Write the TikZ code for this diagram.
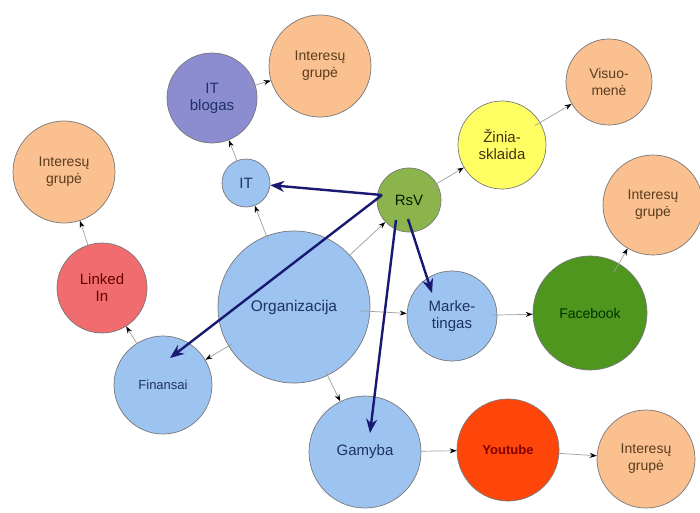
\documentclass[tikz,border=0pt]{standalone}
\usepackage{fontspec}
\setmainfont{Liberation Sans}
\usetikzlibrary{arrows.meta}
\definecolor{lblue}{RGB}{157,195,240}
\definecolor{peach}{RGB}{250,192,144}
\definecolor{lpurple}{RGB}{140,140,208}
\definecolor{lyellow}{RGB}{255,255,100}
\definecolor{rsvgreen}{RGB}{140,180,76}
\definecolor{fbgreen}{RGB}{78,150,30}
\definecolor{ytred}{RGB}{255,70,10}
\definecolor{lired}{RGB}{240,108,110}
\definecolor{navytext}{RGB}{30,50,100}
\definecolor{browntext}{RGB}{90,60,30}
\definecolor{thicknavy}{RGB}{25,25,115}
\definecolor{rim}{RGB}{120,120,120}
\tikzset{
  bub/.style={circle, draw=rim, line width=0.7pt, align=center, inner sep=0pt,
    font=\fontsize{15}{17}\selectfont},
  bluebub/.style={bub, fill=lblue, text=navytext},
  peachbub/.style={bub, fill=peach, text=browntext, font=\fontsize{14}{17}\selectfont},
  thinarr/.style={draw=gray!75, line width=0.7pt, -{Stealth[length=7pt,width=5pt,color=black]}},
  thickarr/.style={draw=thicknavy, line width=2.4pt, -{Stealth[length=14pt,width=11pt]}}
}
\begin{document}
\begin{tikzpicture}[x=1pt,y=-1pt]
\useasboundingbox[fill=white] (0,0) rectangle (700,512);
% nodes
\node[bub, fill=lpurple, text=navytext, minimum size=90pt] (itb) at (212,98) {IT\\blogas};
\node[peachbub, minimum size=102pt] (ig1) at (320,66) {Interesų\\grupė};
\node[bluebub, minimum size=48pt] (it) at (246,183) {IT};
\node[peachbub, minimum size=86pt] (vis) at (609,82) {Visuo-\\menė};
\node[bub, fill=lyellow, text=browntext!80!black, minimum size=88pt] (zin) at (502,145) {Žinia-\\sklaida};
\node[bub, fill=rsvgreen, text=black!70!green!40!black, minimum size=64pt] (rsv) at (409,200) {RsV};
\node[peachbub, minimum size=100pt] (ig2) at (653,205) {Interesų\\grupė};
\node[peachbub, minimum size=102pt] (ig3) at (64,172) {Interesų\\grupė};
\node[bub, fill=lired, text=red!40!black, minimum size=90pt] (lin) at (102,288) {Linked\\In};
\node[bluebub, minimum size=98pt, font=\fontsize{13}{15}\selectfont] (fin) at (163,385) {Finansai};
\node[bluebub, minimum size=152pt, font=\fontsize{15.5}{18}\selectfont] (org) at (294,307) {Organizacija};
\node[bluebub, minimum size=90pt] (mkt) at (452,316) {Marke-\\tingas};
\node[bub, fill=fbgreen, text=green!20!black, minimum size=114pt, font=\fontsize{14}{16}\selectfont] (fb) at (590,313) {Facebook};
\node[bluebub, minimum size=112pt] (gam) at (365,452) {Gamyba};
\node[bub, fill=ytred, text=red!50!black, minimum size=102pt, font=\bfseries\fontsize{13}{15}\selectfont] (yt) at (508,450) {Youtube};
\node[peachbub, minimum size=98pt] (ig4) at (646,459) {Interesų\\grupė};
% thin arrows
\draw[thinarr, shorten <=-8pt] (itb) -- (ig1);
\draw[thinarr] (it) -- (itb);
\draw[thinarr, shorten <=-4pt] (org) -- (it);
\draw[thinarr] (org) -- (rsv);
\draw[thinarr, shorten <=-10pt] (org) -- (mkt);
\draw[thinarr, shorten <=-4pt] (org) -- (fin);
\draw[thinarr, shorten <=-4pt] (org) -- (gam);
\draw[thinarr, shorten <=-6pt] (rsv) -- (zin);
\draw[thinarr, shorten <=-6pt] (zin) -- (vis);
\draw[thinarr] (fin) -- (lin);
\draw[thinarr] (lin) -- (ig3);
\draw[thinarr, shorten <=-6pt] (mkt) -- (fb);
\draw[thinarr, shorten <=-10pt] (fb) -- (ig2);
\draw[thinarr] (gam) -- (yt);
\draw[thinarr] (yt) -- (ig4);
% thick arrows from RsV
\coordinate (rsvA) at (382,195);
\coordinate (rsvB) at (408,219);
\coordinate (rsvC) at (396,220);
\coordinate (finTip) at (170,358);
\coordinate (mktTip) at (432,293);
\coordinate (gamTip) at (370,433);
\draw[thickarr] (rsvA) -- (it);
\draw[thickarr] (rsvA) -- (finTip);
\draw[thickarr] (rsvB) -- (mktTip);
\draw[thickarr] (rsvC) -- (gamTip);
\end{tikzpicture}
\end{document}
